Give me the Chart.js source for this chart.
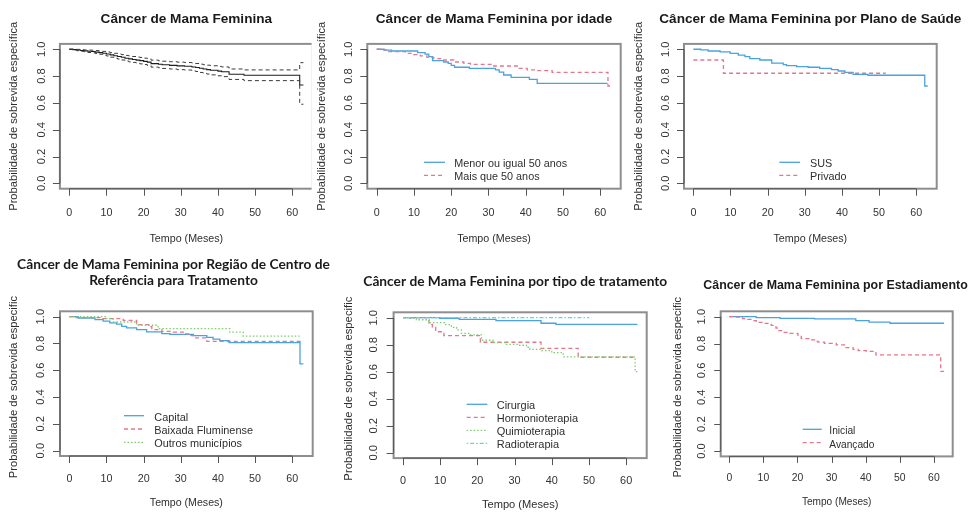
<!DOCTYPE html>
<html lang="pt">
<head>
<meta charset="utf-8">
<title>Sobrevida específica - Câncer de Mama Feminina</title>
<script src="https://cdn.jsdelivr.net/npm/chart.js@4.4.0/dist/chart.umd.min.js"></script>
<style>
  html, body { margin: 0; padding: 0; background: #ffffff; }
  #quadro { position: relative; width: 970px; height: 512px; overflow: hidden; background: #ffffff; }
  #quadro canvas { position: absolute; left: 0; top: 0; }
</style>
</head>
<body>
<div id="quadro"></div>
<script>
// ---------------- Eixos ----------------
const ticksTempo = [0, 10, 20, 30, 40, 50, 60];
const ticksProb = [0.0, 0.2, 0.4, 0.6, 0.8, 1.0];
const limTempo = [-2.52, 65.52];
const limProb = [-0.04, 1.04];
const rotuloX = 'Tempo (Meses)';
const rotuloY = 'Probabilidade de sobrevida específica';
const rotuloYCortado = 'Probabilidade de sobrevida especific';

// ---------------- Curva geral (Kaplan-Meier + IC 95%) ----------------
const geralTempo = [0, 1, 2, 3, 4, 5, 6, 7, 8, 9, 10, 11, 12, 13, 14, 15, 16, 17, 18, 19, 20, 21, 22, 24, 25, 27, 29, 31, 33, 34, 35, 36, 37, 38, 40, 41, 43, 47, 62, 63];
const geralSobrevida = [1.000, 0.997, 0.994, 0.991, 0.988, 0.985, 0.983, 0.979, 0.975, 0.970, 0.965, 0.958, 0.952, 0.946, 0.940, 0.933, 0.928, 0.924, 0.919, 0.915, 0.910, 0.904, 0.893, 0.888, 0.884, 0.880, 0.876, 0.873, 0.868, 0.864, 0.858, 0.853, 0.848, 0.843, 0.837, 0.832, 0.814, 0.806, 0.733, 0.733];
const geralSuperior = [1.000, 1.000, 0.999, 0.997, 0.995, 0.994, 0.993, 0.990, 0.987, 0.984, 0.980, 0.975, 0.970, 0.965, 0.960, 0.954, 0.950, 0.946, 0.942, 0.939, 0.934, 0.929, 0.919, 0.914, 0.911, 0.907, 0.904, 0.901, 0.897, 0.894, 0.889, 0.885, 0.881, 0.877, 0.872, 0.868, 0.853, 0.846, 0.900, 0.900];
const geralInferior = [1.000, 0.994, 0.989, 0.985, 0.981, 0.976, 0.973, 0.968, 0.963, 0.956, 0.950, 0.941, 0.934, 0.927, 0.920, 0.912, 0.906, 0.902, 0.896, 0.891, 0.886, 0.879, 0.867, 0.862, 0.857, 0.853, 0.848, 0.845, 0.839, 0.834, 0.827, 0.821, 0.815, 0.809, 0.802, 0.796, 0.775, 0.766, 0.590, 0.590];

// ---------------- Por idade ----------------
const idadeMenorTempo = [0, 2, 4, 11, 13, 14, 15, 18, 19.2, 20, 20.9, 24.9, 31.9, 32.9, 34.1, 36.1, 41, 43.1, 62];
const idadeMenorSobrevida = [1.000, 0.993, 0.987, 0.975, 0.963, 0.945, 0.915, 0.905, 0.895, 0.880, 0.866, 0.858, 0.846, 0.830, 0.808, 0.790, 0.776, 0.746, 0.746];
const idadeMaiorTempo = [0, 1.5, 3.2, 7.7, 9.9, 11.7, 13.5, 15.3, 18, 20.7, 23.4, 25.2, 31, 38.1, 40.4, 43.1, 47.1, 62.1, 63];
const idadeMaiorSobrevida = [1.000, 0.995, 0.982, 0.970, 0.960, 0.950, 0.940, 0.930, 0.920, 0.905, 0.895, 0.888, 0.875, 0.858, 0.846, 0.840, 0.828, 0.726, 0.726];

// ---------------- Por plano de saúde ----------------
const susTempo = [0, 2, 4, 7.2, 9.9, 12.1, 13.9, 15.2, 17.9, 21.1, 24.2, 25.1, 27.8, 30.9, 34, 37.2, 39, 40.8, 43, 47, 62.3, 63.1];
const susSobrevida = [1.000, 0.995, 0.987, 0.980, 0.970, 0.957, 0.945, 0.930, 0.920, 0.896, 0.886, 0.878, 0.871, 0.866, 0.858, 0.848, 0.838, 0.828, 0.813, 0.806, 0.726, 0.726];
const privadoTempo = [0, 8.1, 51.8];
const privadoSobrevida = [0.920, 0.821, 0.821];

// ---------------- Por região do centro de referência ----------------
const capitalTempo = [0, 2.4, 6.9, 9.1, 10.9, 12.7, 14.1, 15.4, 18.1, 20.8, 24.9, 27.1, 33.4, 37, 38.7, 40.5, 43, 62.1, 63];
const capitalSobrevida = [1.000, 0.990, 0.978, 0.966, 0.953, 0.945, 0.928, 0.916, 0.903, 0.886, 0.873, 0.868, 0.858, 0.846, 0.833, 0.821, 0.806, 0.647, 0.647];
const baixadaTempo = [0, 1.1, 8.3, 14.5, 18.1, 21.3, 22.2, 24.9, 28, 31.1, 32.5, 33.8, 37, 63];
const baixadaSobrevida = [1.000, 0.993, 0.985, 0.972, 0.940, 0.925, 0.903, 0.890, 0.885, 0.871, 0.858, 0.841, 0.816, 0.816];
const outrosTempo = [0, 10.1, 11.8, 18.1, 23.9, 43.2, 46.8, 62];
const outrosSobrevida = [1.000, 0.985, 0.960, 0.936, 0.910, 0.884, 0.854, 0.854];

// ---------------- Por tipo de tratamento ----------------
const cirurgiaTempo = [0, 9.9, 15.1, 25, 37.1, 41.1, 63];
const cirurgiaSobrevida = [1.000, 0.996, 0.988, 0.978, 0.959, 0.951, 0.951];
const hormonioTempo = [0, 7, 7.9, 8.8, 11, 20.8, 37.1, 47.1, 62.4];
const hormonioSobrevida = [1.000, 0.950, 0.930, 0.896, 0.867, 0.818, 0.773, 0.707, 0.707];
const quimioTempo = [0, 1.8, 3.6, 7, 11.2, 13, 14.4, 15.7, 18, 21.1, 24.2, 27.4, 31, 33.2, 34.1, 37.3, 40, 43.1, 62.4, 63];
const quimioSobrevida = [1.000, 0.995, 0.985, 0.963, 0.948, 0.929, 0.910, 0.884, 0.873, 0.833, 0.815, 0.803, 0.796, 0.781, 0.766, 0.756, 0.741, 0.710, 0.600, 0.600];
const radioTempo = [0, 50.1];
const radioSobrevida = [1.000, 1.000];

// ---------------- Por estadiamento ----------------
const inicialTempo = [0, 7.9, 14.9, 25, 37.1, 41, 47.1, 63];
const inicialSobrevida = [1.000, 0.993, 0.988, 0.983, 0.971, 0.960, 0.951, 0.951];
const avancadoTempo = [0, 1.5, 2.9, 3.9, 5.4, 6.9, 7.9, 8.3, 10.3, 12.3, 13.7, 14.2, 15.7, 17.6, 20.1, 21.1, 23.5, 25, 26, 27.9, 31.4, 33.8, 36.3, 37.8, 40.2, 43, 62, 63];
const avancadoSobrevida = [1.000, 0.996, 0.990, 0.985, 0.980, 0.971, 0.966, 0.958, 0.950, 0.935, 0.915, 0.896, 0.883, 0.875, 0.862, 0.837, 0.827, 0.816, 0.810, 0.802, 0.790, 0.770, 0.757, 0.747, 0.742, 0.715, 0.593, 0.593];

// ---------------- Estilos ----------------
const AZUL = '#4aa2df';
const VERMELHO = '#e2788a';
const VERDE = '#7bd06c';
const CIANO = '#55dbe0';
const PRETO = '#1e1e1e';
const TRACO = [4, 3];
const PONTO = [1.5, 2];
const TRACO_PONTO = [1.5, 2, 4, 2];
const ARIAL = '"Liberation Sans", Arial, sans-serif';
const CALIBRI = 'Lato, "Open Sans", sans-serif';

function serie(tempos, valores, cor, traco, largura) {
  return {
    data: tempos.map((t, i) => ({ x: t, y: valores[i] })),
    stepped: 'before',
    borderColor: cor,
    borderWidth: largura || 1.3,
    borderDash: traco || [],
    pointRadius: 0,
    fill: false,
    tension: 0
  };
}

const paineis = [
  {
    caixa: { l: 59.9, t: 43.9, r: 312.8, b: 188.7 }, corteDireita: 311.6,
    titulo: { linhas: ['Câncer de Mama Feminina'], fonte: 'bold 13.6px ' + ARIAL, x: null, y: [22.5] },
    fontes: { tx: 10.7, ty: 11.2, rx: 10.7, ry: 11.2, leg: 10.8 },
    desl: { ty: 14.6, ry: 42.5, tx: 27, rx: 52.8, tick: 7 },
    rotuloY: rotuloY,
    series: [
      serie(geralTempo, geralSuperior, '#3a3a3a', TRACO, 1),
      serie(geralTempo, geralInferior, '#3a3a3a', TRACO, 1),
      serie(geralTempo, geralSobrevida, PRETO, [], 1.1)
    ],
    legenda: null
  },
  {
    caixa: { l: 367.3, t: 43.9, r: 620.7, b: 188.7 },
    titulo: { linhas: ['Câncer de Mama Feminina por idade'], fonte: 'bold 13.6px ' + ARIAL, x: null, y: [22.5] },
    fontes: { tx: 10.7, ty: 11.2, rx: 10.7, ry: 11.2, leg: 10.8 },
    desl: { ty: 15, ry: 42.4, tx: 27, rx: 52.8, tick: 7 },
    rotuloY: rotuloY,
    series: [
      serie(idadeMaiorTempo, idadeMaiorSobrevida, VERMELHO, TRACO),
      serie(idadeMenorTempo, idadeMenorSobrevida, AZUL, [])
    ],
    legenda: { x0: 424, x1: 445, xt: 454.3, linhas: [162.3, 175.3],
      itens: [['Menor ou igual 50 anos', AZUL, []], ['Mais que 50 anos', VERMELHO, TRACO]] }
  },
  {
    caixa: { l: 684, t: 43.9, r: 936.7, b: 188.7 },
    titulo: { linhas: ['Câncer de Mama Feminina por Plano de Saúde'], fonte: 'bold 13.6px ' + ARIAL, x: null, y: [22.5] },
    fontes: { tx: 10.7, ty: 11.2, rx: 10.7, ry: 11.2, leg: 10.8 },
    desl: { ty: 15, ry: 42.4, tx: 27, rx: 52.8, tick: 7 },
    rotuloY: rotuloY,
    series: [
      serie(privadoTempo, privadoSobrevida, VERMELHO, TRACO),
      serie(susTempo, susSobrevida, AZUL, [])
    ],
    legenda: { x0: 779.3, x1: 800, xt: 810, linhas: [162.3, 175.3],
      itens: [['SUS', AZUL, []], ['Privado', VERMELHO, TRACO]] }
  },
  {
    caixa: { l: 60, t: 311.3, r: 312.7, b: 456 },
    titulo: { linhas: ['Câncer de Mama Feminina por Região de Centro de', 'Referência para Tratamento'], familia: CALIBRI, largura: 313, x: 173.5, y: [269, 285.3] },
    fontes: { tx: 10.7, ty: 11.2, rx: 10.6, ry: 11.2, leg: 10.9 },
    desl: { ty: 16, ry: 42.6, tx: 25.7, rx: 50, tick: 7 },
    rotuloY: rotuloYCortado,
    series: [
      serie(outrosTempo, outrosSobrevida, VERDE, PONTO),
      serie(baixadaTempo, baixadaSobrevida, VERMELHO, TRACO),
      serie(capitalTempo, capitalSobrevida, AZUL, [])
    ],
    legenda: { x0: 124, x1: 144, xt: 154.3, linhas: [415.7, 429, 442.3],
      itens: [['Capital', AZUL, []], ['Baixada Fluminense', VERMELHO, TRACO], ['Outros municípios', VERDE, PONTO]] }
  },
  {
    caixa: { l: 393.6, t: 312.3, r: 646.7, b: 458.1 },
    titulo: { linhas: ['Câncer de Mama Feminina por tipo de tratamento'], familia: CALIBRI, largura: 304, x: 363.3, alinhar: 'left', y: [286] },
    fontes: { tx: 10.9, ty: 11.3, rx: 11.1, ry: 11.3, leg: 11.0 },
    desl: { ty: 16.3, ry: 42, tx: 26, rx: 50, tick: 7 },
    rotuloY: rotuloYCortado,
    series: [
      serie(radioTempo, radioSobrevida, CIANO, TRACO_PONTO),
      serie(quimioTempo, quimioSobrevida, VERDE, PONTO),
      serie(hormonioTempo, hormonioSobrevida, VERMELHO, TRACO),
      serie(cirurgiaTempo, cirurgiaSobrevida, AZUL, [])
    ],
    legenda: { x0: 466.7, x1: 487.3, xt: 496.7, linhas: [404.3, 417.3, 430.3, 443.3],
      itens: [['Cirurgia', AZUL, []], ['Hormonioterapia', VERMELHO, TRACO], ['Quimioterapia', VERDE, PONTO], ['Radioterapia', CIANO, TRACO_PONTO]] }
  },
  {
    caixa: { l: 720.7, t: 311.3, r: 952.7, b: 456.4 },
    titulo: { linhas: ['Câncer de Mama Feminina por Estadiamento'], fonte: 'bold 12.4px ' + ARIAL, x: 835.5, y: [289.3] },
    fontes: { tx: 10.4, ty: 11.2, rx: 10.1, ry: 11.1, leg: 10.2 },
    desl: { ty: 15.4, ry: 39.6, tx: 24.3, rx: 49, tick: 6.5 },
    rotuloY: rotuloYCortado,
    series: [
      serie(avancadoTempo, avancadoSobrevida, VERMELHO, TRACO),
      serie(inicialTempo, inicialSobrevida, AZUL, [])
    ],
    legenda: { x0: 802.7, x1: 821.7, xt: 829.3, linhas: [429.3, 442.6],
      itens: [['Inicial', AZUL, []], ['Avançado', VERMELHO, TRACO]] }
  }
];

const LARG = 970, ALT = 512;
const quadro = document.getElementById('quadro');

function molduraPlugin(p) {
  return {
    id: 'moldura',
    afterDatasetsDraw(chart) {
      const ctx = chart.ctx;
      const sx = chart.scales.x, sy = chart.scales.y;
      const a = chart.chartArea;
      ctx.save();

      // caixa do gráfico
      ctx.save();
      if (p.corteDireita) {
        ctx.beginPath();
        ctx.rect(0, 0, p.corteDireita, ALT);
        ctx.clip();
      }
      ctx.strokeStyle = '#8e8e8e';
      ctx.lineWidth = 2;
      ctx.setLineDash([]);
      ctx.strokeRect(a.left, a.top, a.right - a.left, a.bottom - a.top);
      ctx.restore();

      ctx.strokeStyle = '#555555';
      ctx.lineWidth = 1;
      ctx.fillStyle = '#333333';

      // eixo x
      const x0 = sx.getPixelForValue(ticksTempo[0]);
      const x1 = sx.getPixelForValue(ticksTempo[ticksTempo.length - 1]);
      ctx.beginPath();
      ctx.moveTo(x0, a.bottom); ctx.lineTo(x1, a.bottom);
      ticksTempo.forEach(v => {
        const x = Math.round(sx.getPixelForValue(v)) + 0.5;
        ctx.moveTo(x, a.bottom); ctx.lineTo(x, a.bottom + p.desl.tick);
      });
      ctx.stroke();
      ctx.font = p.fontes.tx + 'px ' + ARIAL;
      ctx.textAlign = 'center';
      ctx.textBaseline = 'alphabetic';
      ticksTempo.forEach(v => {
        ctx.fillText(String(v), sx.getPixelForValue(v), a.bottom + p.desl.tx);
      });

      // eixo y
      const y0 = sy.getPixelForValue(ticksProb[0]);
      const y1 = sy.getPixelForValue(ticksProb[ticksProb.length - 1]);
      ctx.beginPath();
      ctx.moveTo(a.left, y0); ctx.lineTo(a.left, y1);
      ticksProb.forEach(v => {
        const y = Math.round(sy.getPixelForValue(v)) + 0.5;
        ctx.moveTo(a.left, y); ctx.lineTo(a.left - p.desl.tick, y);
      });
      ctx.stroke();
      ctx.font = p.fontes.ty + 'px ' + ARIAL;
      ticksProb.forEach(v => {
        ctx.save();
        ctx.translate(a.left - p.desl.ty, sy.getPixelForValue(v));
        ctx.rotate(-Math.PI / 2);
        ctx.textAlign = 'center';
        ctx.fillText(v.toFixed(1), 0, 0);
        ctx.restore();
      });

      // títulos dos eixos
      ctx.fillStyle = '#2e2e2e';
      ctx.font = p.fontes.rx + 'px ' + ARIAL;
      ctx.textAlign = 'center';
      ctx.fillText(rotuloX, (a.left + a.right) / 2, a.bottom + p.desl.rx);

      ctx.font = p.fontes.ry + 'px ' + ARIAL;
      const larguraCompleta = ctx.measureText(rotuloY).width;
      ctx.save();
      ctx.translate(a.left - p.desl.ry, (a.top + a.bottom) / 2);
      ctx.rotate(-Math.PI / 2);
      ctx.textAlign = 'left';
      ctx.fillText(p.rotuloY, -larguraCompleta / 2, 0);
      ctx.restore();

      // título do painel
      const t = p.titulo;
      ctx.fillStyle = '#1a1a1a';
      let fonte = t.fonte;
      if (!fonte) {
        ctx.font = 'bold 20px ' + t.familia;
        const w = ctx.measureText(t.linhas[0]).width;
        fonte = 'bold ' + (20 * t.largura / w).toFixed(2) + 'px ' + t.familia;
      }
      ctx.font = fonte;
      ctx.textAlign = t.alinhar || 'center';
      const tx = t.x != null ? t.x : (a.left + a.right) / 2;
      t.linhas.forEach((linha, i) => ctx.fillText(linha, tx, t.y[i]));

      // legenda
      const lg = p.legenda;
      if (lg) {
        ctx.font = p.fontes.leg + 'px ' + ARIAL;
        ctx.textAlign = 'left';
        lg.itens.forEach((item, i) => {
          const y = lg.linhas[i];
          ctx.save();
          ctx.strokeStyle = item[1];
          ctx.lineWidth = 1.3;
          ctx.setLineDash(item[2]);
          ctx.beginPath();
          ctx.moveTo(lg.x0, y); ctx.lineTo(lg.x1, y);
          ctx.stroke();
          ctx.restore();
          ctx.fillStyle = '#2e2e2e';
          ctx.fillText(item[0], lg.xt, y + 5);
        });
      }
      ctx.restore();
    }
  };
}

paineis.forEach(p => {
  const canvas = document.createElement('canvas');
  canvas.width = LARG;
  canvas.height = ALT;
  quadro.appendChild(canvas);
  new Chart(canvas.getContext('2d'), {
    type: 'line',
    data: { datasets: p.series },
    options: {
      responsive: false,
      animation: false,
      devicePixelRatio: 1,
      layout: { padding: { left: p.caixa.l, top: p.caixa.t, right: LARG - p.caixa.r, bottom: ALT - p.caixa.b } },
      scales: {
        x: { type: 'linear', min: limTempo[0], max: limTempo[1], display: false },
        y: { type: 'linear', min: limProb[0], max: limProb[1], display: false }
      },
      plugins: { legend: { display: false }, tooltip: { enabled: false }, title: { display: false } },
      elements: { point: { radius: 0 }, line: { tension: 0 } },
      events: []
    },
    plugins: [molduraPlugin(p)]
  });
});
</script>
</body>
</html>
